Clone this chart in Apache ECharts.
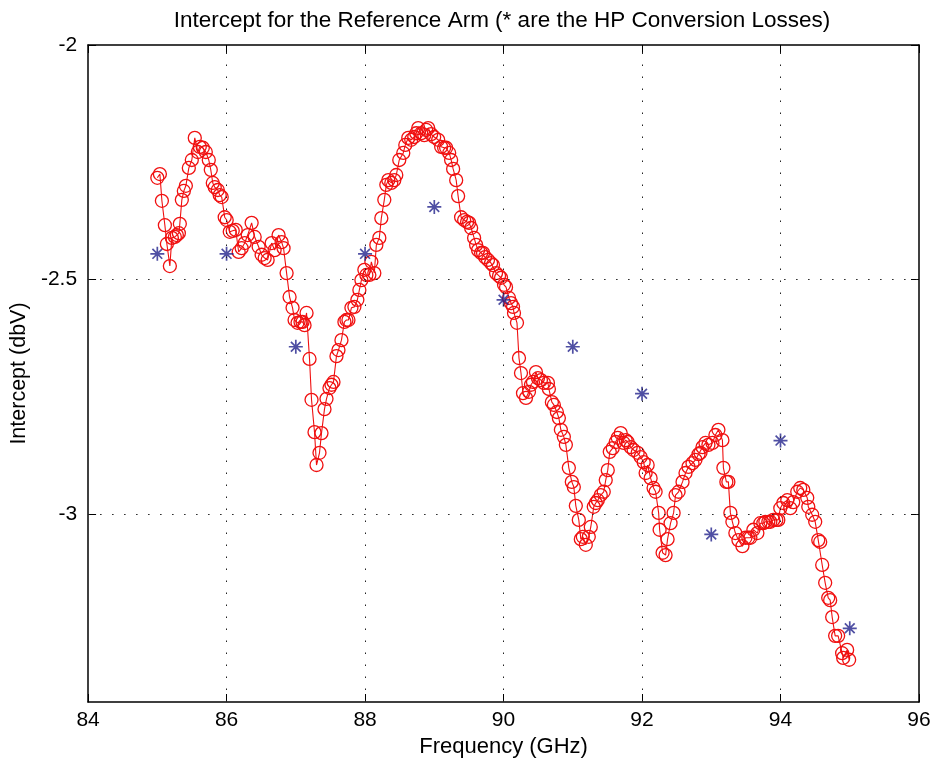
<!DOCTYPE html>
<html>
<head>
<meta charset="utf-8">
<script src="https://cdn.jsdelivr.net/npm/echarts@6/dist/echarts.min.js"></script>
<style>html,body{margin:0;padding:0;background:#fff;}#c{width:936px;height:765px;}</style>
</head>
<body>
<div id="c"></div>
<script>
const titleText = 'Intercept for the Reference Arm (* are the HP Conversion Losses)';
const xName = 'Frequency (GHz)';
const yName = 'Intercept (dbV)';
const xTicks = [84, 86, 88, 90, 92, 94, 96];
const yTicks = [-3, -2.5, -2];

const freq = [85.00,85.037,85.066,85.109,85.138,85.181,85.210,85.253,85.282,85.311,
85.325,85.354,85.383,85.412,85.455,85.498,85.541,85.585,85.613,85.657,
85.700,85.743,85.772,85.801,85.829,85.873,85.901,85.930,85.973,86.002,
86.046,86.089,86.132,86.175,86.218,86.262,86.305,86.362,86.406,86.463,
86.506,86.550,86.593,86.651,86.694,86.751,86.795,86.823,86.867,86.910,
86.953,86.982,87.025,87.068,87.097,87.126,87.155,87.198,87.227,87.270,
87.299,87.342,87.371,87.414,87.443,87.486,87.515,87.544,87.587,87.616,
87.659,87.702,87.731,87.760,87.803,87.846,87.889,87.918,87.947,87.990,
88.019,88.062,88.091,88.134,88.163,88.206,88.235,88.278,88.307,88.336,
88.379,88.422,88.451,88.494,88.552,88.581,88.624,88.667,88.710,88.739,
88.768,88.811,88.855,88.883,88.912,88.955,88.998,89.056,89.099,89.142,
89.171,89.215,89.243,89.272,89.316,89.344,89.387,89.431,89.474,89.503,
89.532,89.575,89.604,89.632,89.676,89.704,89.733,89.776,89.820,89.848,
89.892,89.935,89.964,90.007,90.036,90.079,90.108,90.137,90.151,90.194,
90.223,90.252,90.281,90.324,90.367,90.396,90.425,90.468,90.497,90.540,
90.583,90.641,90.655,90.698,90.727,90.770,90.799,90.828,90.871,90.900,
90.943,90.986,91.015,91.044,91.087,91.116,91.145,91.188,91.231,91.260,
91.303,91.332,91.361,91.404,91.447,91.476,91.505,91.534,91.577,91.620,
91.649,91.692,91.735,91.764,91.793,91.836,91.879,91.937,91.980,92.024,
92.052,92.081,92.124,92.167,92.196,92.240,92.254,92.297,92.340,92.369,
92.412,92.456,92.484,92.528,92.585,92.628,92.671,92.729,92.772,92.816,
92.844,92.873,92.916,92.959,93.017,93.060,93.103,93.161,93.175,93.218,
93.247,93.276,93.305,93.348,93.392,93.450,93.493,93.536,93.565,93.608,
93.666,93.709,93.752,93.781,93.824,93.853,93.896,93.939,93.968,93.997,
94.040,94.098,94.141,94.184,94.242,94.285,94.329,94.386,94.401,94.458,
94.501,94.545,94.573,94.602,94.645,94.689,94.717,94.746,94.789,94.832,
94.890,94.905,94.962,94.991];

const intercept = [-2.283,-2.275,-2.332,-2.384,-2.424,-2.471,-2.411,-2.409,-2.405,-2.401,
-2.381,-2.330,-2.311,-2.300,-2.262,-2.245,-2.198,-2.228,-2.217,-2.219,
-2.228,-2.245,-2.266,-2.294,-2.303,-2.309,-2.320,-2.324,-2.367,-2.373,
-2.398,-2.396,-2.394,-2.441,-2.433,-2.422,-2.405,-2.379,-2.409,-2.430,
-2.447,-2.454,-2.458,-2.422,-2.437,-2.405,-2.420,-2.433,-2.486,-2.537,
-2.560,-2.586,-2.592,-2.590,-2.590,-2.597,-2.571,-2.669,-2.756,-2.825,
-2.895,-2.869,-2.827,-2.776,-2.754,-2.731,-2.724,-2.718,-2.663,-2.650,
-2.629,-2.590,-2.586,-2.586,-2.560,-2.558,-2.543,-2.522,-2.501,-2.479,
-2.490,-2.490,-2.462,-2.486,-2.426,-2.411,-2.369,-2.330,-2.298,-2.288,
-2.294,-2.288,-2.277,-2.245,-2.230,-2.213,-2.198,-2.202,-2.196,-2.188,
-2.177,-2.188,-2.192,-2.181,-2.177,-2.190,-2.196,-2.202,-2.217,-2.219,
-2.219,-2.230,-2.245,-2.264,-2.288,-2.322,-2.367,-2.373,-2.377,-2.379,
-2.390,-2.411,-2.426,-2.437,-2.443,-2.443,-2.452,-2.458,-2.465,-2.469,
-2.486,-2.492,-2.496,-2.511,-2.516,-2.539,-2.550,-2.558,-2.571,-2.592,
-2.667,-2.699,-2.742,-2.752,-2.739,-2.724,-2.718,-2.697,-2.710,-2.714,
-2.720,-2.720,-2.733,-2.761,-2.767,-2.782,-2.795,-2.820,-2.835,-2.852,
-2.901,-2.931,-2.942,-2.982,-3.012,-3.053,-3.048,-3.065,-3.048,-3.027,
-2.984,-2.976,-2.970,-2.959,-2.952,-2.927,-2.906,-2.867,-2.859,-2.846,
-2.837,-2.827,-2.848,-2.842,-2.846,-2.857,-2.863,-2.869,-2.878,-2.889,
-2.912,-2.895,-2.923,-2.944,-2.952,-2.997,-3.033,-3.082,-3.087,-3.053,
-3.019,-2.997,-2.959,-2.952,-2.931,-2.912,-2.899,-2.891,-2.884,-2.872,
-2.869,-2.857,-2.848,-2.852,-2.848,-2.831,-2.820,-2.842,-2.901,-2.931,
-2.931,-2.997,-3.016,-3.040,-3.055,-3.068,-3.050,-3.050,-3.050,-3.033,
-3.040,-3.019,-3.019,-3.016,-3.016,-3.016,-3.012,-3.012,-3.012,-2.987,
-2.976,-2.970,-2.987,-2.974,-2.952,-2.944,-2.948,-2.965,-2.984,-3.001,
-3.016,-3.055,-3.059,-3.108,-3.146,-3.178,-3.183,-3.219,-3.259,-3.259,
-3.296,-3.306,-3.289,-3.310];

const hpFreq = [85, 86, 87, 88, 89, 90, 91, 92, 93, 94, 95];
const hpLoss = [-2.445, -2.445, -2.643, -2.445, -2.345, -2.543, -2.643, -2.743, -3.043, -2.843, -3.243];

const n = Math.min(freq.length, intercept.length);
const redData = [];
for (let i = 0; i < n; i++) redData.push([freq[i], intercept[i]]);
const blueData = hpFreq.map((f, i) => [f, hpLoss[i]]);

const FONT = 'Liberation Sans, Arial, Helvetica, sans-serif';
const gridDots = { color: '#222', width: 1, type: [1.5, 10.5] };

const chart = echarts.init(document.getElementById('c'), null, { renderer: 'canvas' });
const markLines = [];
xTicks.slice(1, -1).forEach(v => markLines.push({ xAxis: v }));
yTicks.slice(0, -1).forEach(v => markLines.push({ yAxis: v }));

chart.setOption({
  animation: false,
  backgroundColor: '#fff',
  grid: { left: 86, right: 17, top: 45, bottom: 63, containLabel: false },
  graphic: [{
    type: 'text', x: 502, y: 21,
    style: { text: titleText, font: '22.5px ' + FONT, fill: '#000', textAlign: 'center', textVerticalAlign: 'middle' }
  }],
  xAxis: [{
    type: 'value', min: 84, max: 96, interval: 2, position: 'bottom',
    name: xName, nameLocation: 'middle', nameGap: 32,
    nameTextStyle: { fontFamily: FONT, fontSize: 22, color: '#000' },
    axisLine: { show: true, onZero: false, lineStyle: { color: '#000', width: 1.5 } },
    axisTick: { show: true, inside: true, length: 8, lineStyle: { color: '#000', width: 1 } },
    axisLabel: { fontFamily: FONT, fontSize: 21, color: '#000', margin: 8 },
    splitLine: { show: false }
  }, {
    type: 'value', min: 84, max: 96, interval: 2, position: 'top',
    axisLine: { show: true, onZero: false, lineStyle: { color: '#000', width: 1.5 } },
    axisTick: { show: true, inside: true, length: 8, lineStyle: { color: '#000', width: 1 } },
    axisLabel: { show: false }, splitLine: { show: false }
  }],
  yAxis: [{
    type: 'value', min: -3.4, max: -2, position: 'left',
    name: yName, nameLocation: 'middle', nameGap: 52, nameRotate: 90,
    nameTextStyle: { fontFamily: FONT, fontSize: 21.5, color: '#000' },
    axisLine: { show: true, onZero: false, lineStyle: { color: '#000', width: 1.5 } },
    axisTick: { show: true, inside: true, length: 8, customValues: yTicks, lineStyle: { color: '#000', width: 1 } },
    axisLabel: { fontFamily: FONT, fontSize: 21, color: '#000', margin: 11, customValues: yTicks },
    splitLine: { show: false }
  }, {
    type: 'value', min: -3.4, max: -2, position: 'right',
    axisLine: { show: true, onZero: false, lineStyle: { color: '#000', width: 1.5 } },
    axisTick: { show: true, inside: true, length: 8, customValues: yTicks, lineStyle: { color: '#000', width: 1 } },
    axisLabel: { show: false }, splitLine: { show: false }
  }],
  series: [{
    type: 'line', name: 'intercept', data: redData, xAxisIndex: 0, yAxisIndex: 0,
    symbol: 'circle', symbolSize: 13, showAllSymbol: true,
    lineStyle: { color: '#f01010', width: 1.1 },
    itemStyle: { color: 'rgba(0,0,0,0)', borderColor: '#f01010', borderWidth: 1.3 },
    emphasis: { disabled: true }, z: 3,
    markLine: {
      silent: true, symbol: ['none', 'none'], label: { show: false },
      lineStyle: gridDots, emphasis: { disabled: true }, data: markLines
    }
  }, {
    type: 'scatter', name: 'HP', data: blueData, xAxisIndex: 0, yAxisIndex: 0,
    symbol: 'path://M10,0L10,20M0,10L20,10M3,3L17,17M3,17L17,3', symbolSize: 14,
    itemStyle: { color: 'rgba(0,0,0,0)', borderColor: '#23238c', borderWidth: 1.7 },
    emphasis: { disabled: true }, z: 4
  }]
});
</script>
</body>
</html>
